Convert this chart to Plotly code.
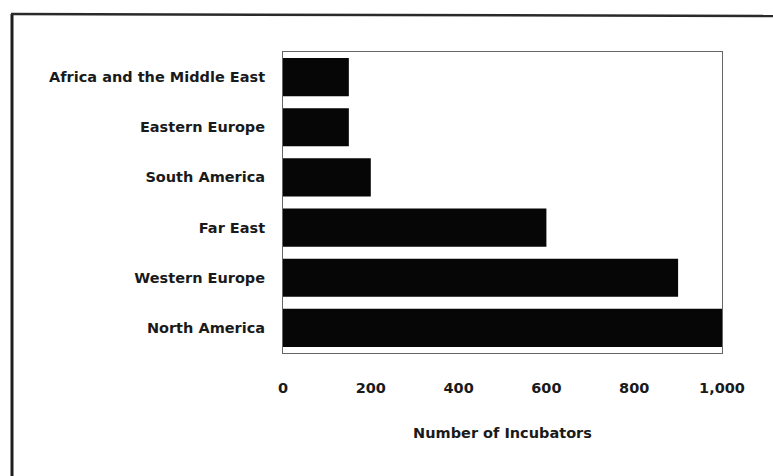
import plotly.graph_objects as go

# Incubators by world region
regions = [
    "Africa and the Middle East",
    "Eastern Europe",
    "South America",
    "Far East",
    "Western Europe",
    "North America",
]
incubators = [150, 150, 200, 600, 900, 1000]
x_ticks = [0, 200, 400, 600, 800, 1000]
x_tick_labels = ["0", "200", "400", "600", "800", "1,000"]

W, H = 773, 476
L, R, T, B = 283, 51, 52, 123
plot_w = W - L - R
plot_h = H - T - B


def px_to_paper_x(px):
    return (px - L) / plot_w


def py_to_paper_y(py):
    return (H - B - py) / plot_h


FONT = "DejaVu Sans"
INK = "#1a1a1a"
SIZE = 14.5


def bold(s):
    return f"<b>{s}</b>"


fig = go.Figure(
    go.Bar(
        x=incubators,
        y=regions,
        orientation="h",
        width=0.76,
        marker=dict(color="#060606", line=dict(width=0)),
        hoverinfo="x+y",
    )
)

fig.update_layout(
    width=W,
    height=H,
    margin=dict(l=L, r=R, t=T, b=B, pad=0),
    paper_bgcolor="white",
    plot_bgcolor="white",
    showlegend=False,
    font=dict(family=FONT, size=SIZE, color=INK),
    xaxis=dict(
        range=[0, 1000],
        tickvals=x_ticks,
        ticktext=[bold(t) for t in x_tick_labels],
        showgrid=False,
        zeroline=False,
        ticks="",
        showline=True,
        linecolor="#666",
        linewidth=1,
        mirror=True,
        tickfont=dict(family=FONT, size=SIZE, color=INK),
        ticklabelstandoff=22,
        title=dict(
            text=bold("Number of Incubators"),
            font=dict(family=FONT, size=SIZE, color=INK),
            standoff=32,
        ),
        fixedrange=True,
    ),
    yaxis=dict(
        autorange="reversed",
        tickvals=regions,
        ticktext=[bold(r) for r in regions],
        showgrid=False,
        zeroline=False,
        ticks="",
        showline=True,
        linecolor="#666",
        linewidth=1,
        mirror=True,
        tickfont=dict(family=FONT, size=SIZE, color=INK),
        ticklabelstandoff=14,
        fixedrange=True,
    ),
    shapes=[
        # outer frame: left rule and top rule
        dict(
            type="line", xref="paper", yref="paper",
            x0=px_to_paper_x(12), x1=px_to_paper_x(12),
            y0=py_to_paper_y(14), y1=py_to_paper_y(H + 2),
            line=dict(color="#1e1e1e", width=3),
        ),
        dict(
            type="line", xref="paper", yref="paper",
            x0=px_to_paper_x(11), x1=px_to_paper_x(W + 2),
            y0=py_to_paper_y(14), y1=py_to_paper_y(16),
            line=dict(color="#2a2a2a", width=2.5),
        ),
    ],
)

fig.write_html("out.html")
